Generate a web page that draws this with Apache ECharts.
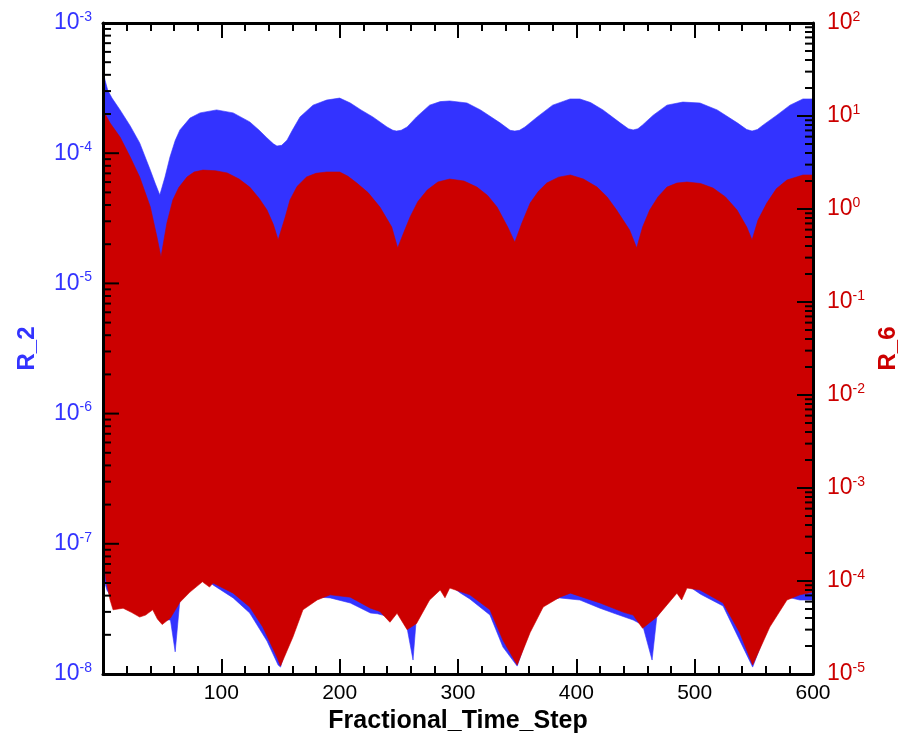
<!DOCTYPE html>
<html>
<head>
<meta charset="utf-8">
<script src="https://cdn.jsdelivr.net/npm/echarts@6/dist/echarts.min.js"></script>
<style>
  html, body { margin: 0; padding: 0; background: #ffffff; }
  #chart { width: 898px; height: 736px; }
</style>
</head>
<body>
<div id="chart"></div>
<script>
// Fractional time step axis
const stepMin = 0;
const stepMax = 600;
const stepInterval = 100;

// R_2 oscillation envelope (upper and lower bounds), [step, value]
const r2Upper = [
  [0, 4.3e-4], [1.7, 3.65e-4], [4, 3.05e-4], [7.6, 2.65e-4], [14.4, 2.15e-4], [23, 1.62e-4],
  [31, 1.2e-4], [40, 7.4e-5], [44, 5.9e-5], [48, 4.78e-5], [52.4, 6.56e-5], [56.6, 9.35e-5],
  [61, 1.25e-4], [65, 1.51e-4], [73.5, 1.86e-4], [82, 2.04e-4], [96, 2.15e-4], [110, 2.04e-4],
  [124, 1.74e-4], [132, 1.5e-4], [138.6, 1.31e-4], [144, 1.18e-4], [147, 1.135e-4], [151, 1.15e-4],
  [155.5, 1.26e-4], [160, 1.5e-4], [166.5, 1.9e-4], [177.5, 2.34e-4], [189, 2.56e-4], [200, 2.65e-4],
  [209, 2.43e-4], [218, 2.15e-4], [228, 1.9e-4], [240, 1.59e-4], [245, 1.5e-4], [248, 1.48e-4],
  [252, 1.5e-4], [257, 1.59e-4], [265, 1.9e-4], [276, 2.34e-4], [285, 2.49e-4], [293, 2.52e-4],
  [307.6, 2.43e-4], [319, 2.15e-4], [335.5, 1.71e-4], [344, 1.5e-4], [348, 1.48e-4], [352, 1.5e-4],
  [356.6, 1.59e-4], [367, 1.9e-4], [380, 2.34e-4], [394.7, 2.61e-4], [403, 2.61e-4], [412, 2.45e-4],
  [422.5, 2.15e-4], [437, 1.71e-4], [444, 1.54e-4], [448, 1.51e-4], [452, 1.54e-4], [456, 1.65e-4],
  [465, 1.96e-4], [476.6, 2.34e-4], [490, 2.47e-4], [504.5, 2.43e-4], [519, 2.15e-4], [536, 1.71e-4],
  [544, 1.52e-4], [548.5, 1.48e-4], [553, 1.52e-4], [558, 1.65e-4], [569.5, 1.96e-4], [580.6, 2.34e-4],
  [591.5, 2.61e-4], [600, 2.61e-4]
];
const r2Lower = [
  [0, 5.6e-8], [3.4, 4.4e-8], [6, 4.05e-8], [17, 3.5e-8], [31, 3.0e-8], [42, 3.4e-8], [50, 2.6e-8],
  [57, 2.6e-8], [61, 1.48e-8], [65, 3.7e-8], [73.5, 4.66e-8], [84, 5.56e-8], [90, 5.1e-8],
  [93, 4.83e-8], [110, 3.84e-8], [124, 2.94e-8], [138.6, 1.79e-8], [148, 1.17e-8], [150, 1.13e-8],
  [154, 1.5e-8], [160.5, 2.1e-8], [169, 3.4e-8], [181, 3.9e-8], [192, 3.84e-8], [209, 3.51e-8],
  [226, 2.94e-8], [232, 2.9e-8], [242.5, 2.74e-8], [248.5, 3.2e-8], [257, 2.25e-8], [262, 1.28e-8],
  [265, 2.84e-8], [276, 4.05e-8], [285, 4.83e-8], [289, 4.19e-8], [293, 4.83e-8], [302, 4.19e-8],
  [310, 3.77e-8], [327, 2.84e-8], [338, 1.61e-8], [350, 1.15e-8], [361, 2.25e-8], [372, 3.57e-8],
  [386, 3.84e-8], [403, 3.7e-8], [420, 3.2e-8], [433, 2.9e-8], [448, 2.6e-8], [456, 2.38e-8],
  [464, 1.28e-8], [468, 2.74e-8], [485, 4.57e-8], [489, 4.05e-8], [493.5, 4.83e-8], [505, 4.1e-8],
  [524, 3.33e-8], [538, 1.82e-8], [549, 1.13e-8], [563.5, 2.51e-8], [578, 3.9e-8], [589, 3.7e-8],
  [600, 3.7e-8]
];

// R_6 oscillation envelope (upper and lower bounds), [step, value]
const r6Upper = [
  [0, 11.6], [6, 8.4], [14.4, 5.94], [23, 3.62], [31, 2.21], [40, 1.05], [45.6, 0.5], [49, 0.305],
  [54, 0.707], [59, 1.25], [64, 1.7], [71, 2.21], [77, 2.5], [84.5, 2.62], [95, 2.58], [105, 2.44],
  [115, 2.1], [124, 1.72], [132, 1.3], [138.6, 0.975], [144, 0.68], [148, 0.465], [154, 0.82],
  [158, 1.25], [164, 1.75], [172, 2.21], [180, 2.42], [189, 2.5], [200, 2.5], [207, 2.25], [214.5, 1.9],
  [224, 1.5], [234, 1.05], [244, 0.64], [249, 0.381], [255, 0.594], [259.5, 0.82], [266, 1.2],
  [274, 1.6], [283, 1.95], [293, 2.1], [305, 2.0], [316, 1.72], [325, 1.4], [333, 1.05], [342, 0.64],
  [348, 0.44], [354, 0.707], [361, 1.16], [368, 1.55], [375, 1.9], [385, 2.2], [395, 2.32], [406, 2.1],
  [417.5, 1.72], [426, 1.35], [434, 0.975], [445, 0.594], [451, 0.381], [456, 0.64], [462, 0.975],
  [469, 1.35], [476.6, 1.72], [485, 1.9], [493.5, 1.95], [505, 1.88], [515.5, 1.68], [526, 1.35],
  [535.8, 0.975], [544, 0.64], [548.5, 0.465], [553.5, 0.76], [561, 1.16], [569, 1.65], [578, 2.05],
  [591.5, 2.32], [600, 2.32]
];
const r6Lower = [
  [0, 2.3e-4], [2.5, 1.03e-4], [6, 6.25e-5], [8.5, 4.9e-5], [17, 5.1e-5], [24, 4.6e-5], [31, 4.1e-5],
  [36, 4.3e-5], [42, 4.9e-5], [46, 3.9e-5], [50, 3.4e-5], [57, 4.0e-5], [65, 5.9e-5], [73.5, 7.6e-5],
  [84, 9.8e-5], [90, 8.6e-5], [93, 9.5e-5], [110, 7.4e-5], [124, 5.25e-5], [135, 3.2e-5],
  [147, 1.52e-5], [150, 1.22e-5], [154, 1.6e-5], [160.5, 2.5e-5], [169, 4.9e-5], [181, 6.25e-5],
  [192, 7.1e-5], [209, 6.7e-5], [226, 5.1e-5], [234, 4.7e-5], [242.5, 3.6e-5], [248.5, 4.5e-5],
  [257, 3.0e-5], [265, 3.5e-5], [276, 6.25e-5], [285, 8.0e-5], [289, 6.6e-5], [293, 8.4e-5],
  [310, 7.1e-5], [327, 4.9e-5], [338, 2.3e-5], [350, 1.25e-5], [361, 2.8e-5], [372, 5.25e-5],
  [386, 6.7e-5], [395, 7.4e-5], [420, 5.8e-5], [440, 4.6e-5], [448, 4.3e-5], [456, 3.1e-5],
  [468, 4.1e-5], [485, 7.4e-5], [489, 6.25e-5], [493.5, 8.4e-5], [504.5, 8.0e-5], [524, 5.8e-5],
  [538, 2.8e-5], [549, 1.25e-5], [563.5, 3.2e-5], [578, 6.25e-5], [589, 7.1e-5], [600, 7.6e-5]
];

// Decade exponents spanned by each log axis
const r2Decades = [-8, -7, -6, -5, -4, -3];
const r6Decades = [-5, -4, -3, -2, -1, 0, 1, 2];

const BLUE = '#3333ff';
const RED = '#cc0000';
const FONT = '"Liberation Sans", Arial, Helvetica, sans-serif';

function powerLabel(v) {
  const e = Math.round(Math.log10(v));
  return '{b|10}{e|' + e + '}';
}

function powerRich(color) {
  return {
    b: { fontSize: 23, fontFamily: FONT, color: color, lineHeight: 26, verticalAlign: 'middle' },
    e: { fontSize: 14, fontFamily: FONT, color: color, lineHeight: 14, verticalAlign: 'top' }
  };
}

// Filled band between an upper and a lower envelope
function bandSeries(name, upper, lower, color, yIdx) {
  const outline = upper.concat(lower.slice().reverse());
  return {
    type: 'custom',
    name: name,
    coordinateSystem: 'cartesian2d',
    xAxisIndex: 0,
    yAxisIndex: yIdx,
    data: outline,
    clip: true,
    silent: true,
    z: 2,
    renderItem: function (params, api) {
      if (params.dataIndex !== 0) return null;
      return {
        type: 'polygon',
        shape: { points: outline.map(function (p) { return api.coord(p); }) },
        style: { fill: color, stroke: color, lineWidth: 0.6 }
      };
    }
  };
}

// Decade and sub-decade ticks drawn inward from a log axis
function logTickSeries(decades, yIdx, xAt, dir) {
  const marks = [];
  decades.forEach(function (d, i) {
    marks.push([xAt, Math.pow(10, d), 1]);
    if (i < decades.length - 1) {
      for (let m = 2; m <= 9; m++) marks.push([xAt, m * Math.pow(10, d), 0]);
    }
  });
  return {
    type: 'custom',
    coordinateSystem: 'cartesian2d',
    xAxisIndex: 0,
    yAxisIndex: yIdx,
    data: marks,
    clip: false,
    silent: true,
    z: 6,
    renderItem: function (params, api) {
      const p = api.coord([api.value(0), api.value(1)]);
      const len = api.value(2) ? 16 : 8;
      return {
        type: 'line',
        shape: { x1: p[0], y1: p[1], x2: p[0] + dir * len, y2: p[1] },
        style: { stroke: '#000', lineWidth: 2 }
      };
    }
  };
}

const chart = echarts.init(document.getElementById('chart'), null, { renderer: 'canvas' });

const axisLine = { show: true, onZero: false, lineStyle: { color: '#000', width: 3 } };

chart.setOption({
  animation: false,
  backgroundColor: '#ffffff',
  grid: { left: 103, right: 85, top: 23, bottom: 62, containLabel: false, outerBoundsMode: 'none' },
  xAxis: [
    {
      type: 'value', position: 'bottom', min: stepMin, max: stepMax, interval: stepInterval, z: 5,
      name: 'Fractional_Time_Step', nameLocation: 'middle', nameGap: 31,
      nameTextStyle: { fontSize: 25, fontWeight: 'bold', fontFamily: FONT, color: '#000' },
      axisLine: axisLine,
      axisTick: { show: true, inside: true, length: 15, lineStyle: { color: '#000', width: 2 } },
      minorTick: { show: true, splitNumber: 5, length: 8, lineStyle: { color: '#000', width: 2 } },
      splitLine: { show: false },
      axisLabel: {
        fontSize: 21, fontFamily: FONT, color: '#000', margin: 9,
        formatter: function (v) { return v === 0 ? '' : String(v); }
      }
    },
    {
      type: 'value', position: 'top', min: stepMin, max: stepMax, interval: stepInterval, z: 5,
      axisLine: axisLine,
      axisTick: { show: true, inside: true, length: 15, lineStyle: { color: '#000', width: 2 } },
      minorTick: { show: true, splitNumber: 5, length: 8, lineStyle: { color: '#000', width: 2 } },
      splitLine: { show: false },
      axisLabel: { show: false }
    }
  ],
  yAxis: [
    {
      type: 'log', logBase: 10, position: 'left', min: 1e-8, max: 1e-3, splitNumber: 5, z: 5,
      name: 'R_2', nameLocation: 'middle', nameGap: 64, nameRotate: 90,
      nameTextStyle: { fontSize: 24, fontWeight: 'bold', fontFamily: FONT, color: BLUE },
      axisLine: axisLine,
      axisTick: { show: false },
      splitLine: { show: false },
      axisLabel: { margin: 11, formatter: powerLabel, rich: powerRich(BLUE) }
    },
    {
      type: 'log', logBase: 10, position: 'right', min: 1e-5, max: 1e2, splitNumber: 7, z: 5,
      name: 'R_6', nameLocation: 'middle', nameGap: 56, nameRotate: 90,
      nameTextStyle: { fontSize: 24, fontWeight: 'bold', fontFamily: FONT, color: RED },
      axisLine: axisLine,
      axisTick: { show: false },
      splitLine: { show: false },
      axisLabel: { margin: 14, formatter: powerLabel, rich: powerRich(RED) }
    }
  ],
  series: [
    bandSeries('R_2', r2Upper, r2Lower, BLUE, 0),
    bandSeries('R_6', r6Upper, r6Lower, RED, 1),
    logTickSeries(r2Decades, 0, stepMin, 1),
    logTickSeries(r6Decades, 1, stepMax, -1)
  ]
});
</script>
</body>
</html>
